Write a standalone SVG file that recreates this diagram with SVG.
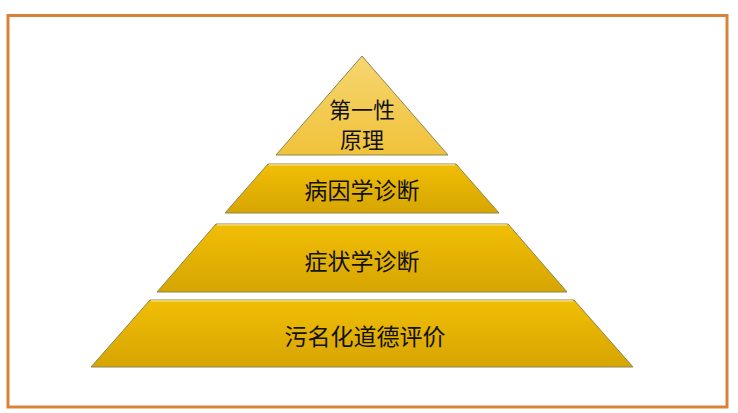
<svg xmlns="http://www.w3.org/2000/svg" width="738" height="413" viewBox="0 0 738 413">
<defs>
<linearGradient id="gTop" x1="0" y1="0" x2="0" y2="1">
<stop offset="0" stop-color="#F6D671"/>
<stop offset="1" stop-color="#F1C23A"/>
</linearGradient>
<linearGradient id="gLayer" x1="0" y1="0" x2="0" y2="1">
<stop offset="0" stop-color="#F1BE05"/>
<stop offset="1" stop-color="#D6A502"/>
</linearGradient>
<style>
.layer{fill:url(#gLayer);stroke:#8A8650;stroke-width:1}
.top{fill:url(#gTop);stroke:#8A8650;stroke-width:1}
.hl{stroke:#FFF3B0;stroke-width:1.2;opacity:0.8}
.lbl{font-family:"Noto Sans CJK SC","Noto Sans CJK JP",sans-serif;font-size:23px;fill:#111;text-anchor:middle}
.sm{font-size:22px}
</style>
</defs>
<rect x="0" y="0" width="738" height="413" fill="#FFFFFF"/>
<rect x="8" y="15.5" width="719" height="391.5" fill="none" stroke="#D9833A" stroke-width="3"/>
<g id="layer1">
<polygon class="top" points="362,56 448,155 276,155"/>
<text class="lbl sm" x="362" y="118">第一性</text>
<text class="lbl sm" x="362" y="148">原理</text>
</g>
<g id="layer2">
<polygon class="layer" points="268,164 456,164 499,213 225,213"/>
<line class="hl" x1="269" y1="164.8" x2="455" y2="164.8"/>
<text class="lbl" x="362" y="198.5">病因学诊断</text>
</g>
<g id="layer3">
<polygon class="layer" points="216,224 508,224 567,292 157,292"/>
<line class="hl" x1="217" y1="224.8" x2="507" y2="224.8"/>
<text class="lbl" x="362" y="269.5">症状学诊断</text>
</g>
<g id="layer4">
<polygon class="layer" points="150,300 574,300 633,367 91,367"/>
<line class="hl" x1="151" y1="300.8" x2="573" y2="300.8"/>
<text class="lbl" x="365" y="344.5">污名化道德评价</text>
</g>
<g id="connectors"></g>
</svg>
